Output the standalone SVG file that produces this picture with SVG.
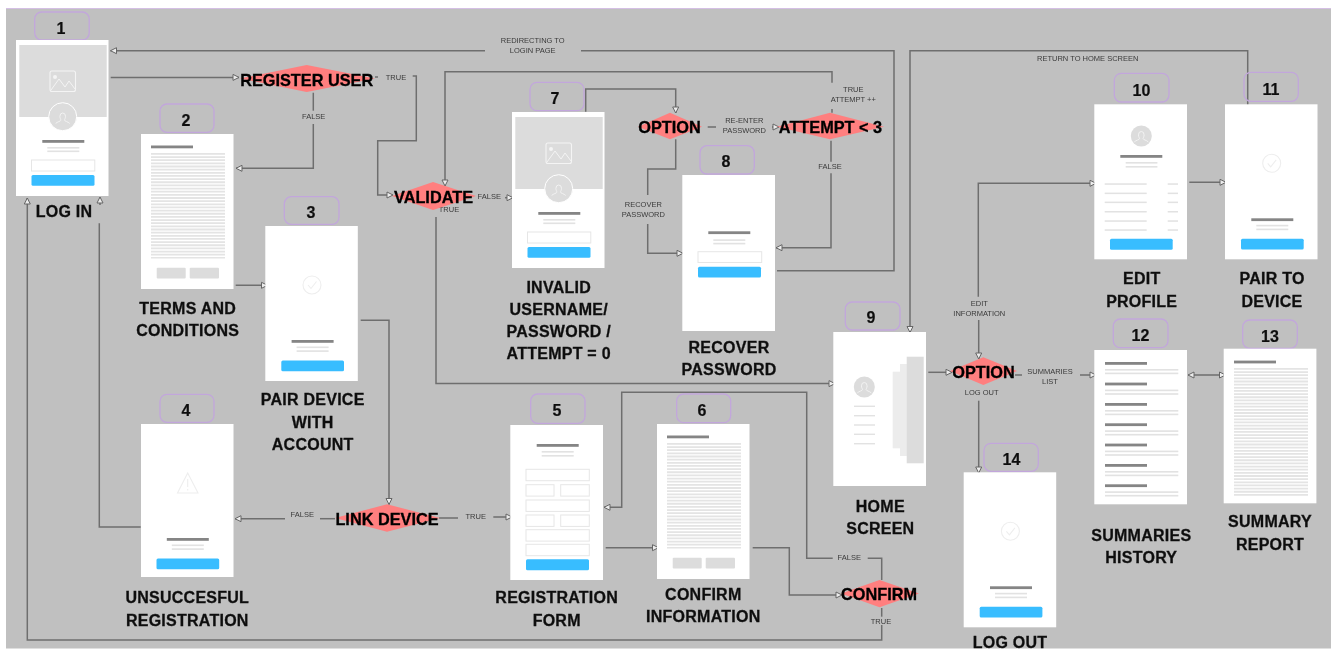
<svg xmlns="http://www.w3.org/2000/svg" width="1331" height="649" viewBox="0 0 1331 649">
<style>
text{font-family:"Liberation Sans",Arial,sans-serif}
.screen{fill:#fff}
.bar{fill:#858585}
.sub{fill:#e2e2e2}
.btn{fill:#38bdff}
.field{fill:#fff;stroke:#e6e6e6;stroke-width:1}
.ph{fill:#dcdcdc}
.ph2{fill:#ececec}
.ico{fill:none;stroke:#eee;stroke-width:1.1}
.hatch{stroke:#e4e4e4;stroke-dasharray:1.8 1.35;fill:none}
.rule{fill:#e2e2e2}
.badge{fill:none;stroke:#c2a6dc;stroke-width:1.3}
.num{font-size:16px;font-weight:700;fill:#111;stroke:#111;stroke-width:.2;text-anchor:middle}
.lbl{font-size:16px;font-weight:700;fill:#111;stroke:#111;stroke-width:.3;text-anchor:middle;letter-spacing:.25px}
.dia{fill:#ff7f7f}
.dt{font-size:16.3px;font-weight:700;fill:#000;stroke:#000;stroke-width:.3;text-anchor:middle}
.edge{fill:none;stroke:#6e6e6e;stroke-width:1.5}
.arr{marker-end:url(#ah)}
.el{font-size:7.5px;fill:#3a3a3a;text-anchor:middle}
</style>
<defs>
<filter id="soft" filterUnits="userSpaceOnUse" x="0" y="0" width="1331" height="649"><feGaussianBlur stdDeviation="0.55"/></filter>
<marker id="ah" markerUnits="userSpaceOnUse" markerWidth="9" markerHeight="9" refX="7.5" refY="4.5" orient="auto-start-reverse"><path d="M1.5 1.5L7.5 4.5L1.5 7.5Z" fill="#ececec" stroke="#666" stroke-width="1"/></marker>
<g id="foot">
<rect class="bar" x="26.3" y="114" width="42" height="2.8"/>
<rect class="sub" x="31.3" y="120.5" width="32" height="1.6"/>
<rect class="sub" x="31.3" y="124.3" width="32" height="1.6"/>
<rect class="btn" x="16" y="134.4" width="62.7" height="10.8" rx="1.5"/>
</g>
<g id="avatar">
<path d="M0-5a2.8 3.4 0 0 1 2.8 3.4c0 2-1 2.8-1 3.8c0 1 3.6 1.6 5.2 3.2M0-5a2.8 3.4 0 0 0-2.8 3.4c0 2 1 2.8 1 3.8c0 1-3.6 1.6-5.2 3.2" fill="none" stroke="#f3f3f3" stroke-width="1"/>
</g>
<g id="check"><circle class="ico" r="9"/><path class="ico" d="M-4 0L-1 3.5L4.5-3.5"/></g>
<g id="scr-login">
<rect class="screen" width="92.5" height="156"/>
<rect class="ph" x="3.3" y="5" width="87.4" height="72"/>
<rect x="34" y="31" width="25.5" height="20.5" rx="2" fill="none" stroke="#f4f4f4" stroke-width="1.1"/>
<circle cx="39" cy="37" r="2" fill="#f4f4f4"/>
<path d="M35 50L43 39L49 47L53 41L59 49" fill="none" stroke="#f4f4f4" stroke-width="1"/>
<circle class="ph" cx="46.7" cy="76.7" r="14" stroke="#fff" stroke-width="1"/>
<use href="#avatar" x="46.7" y="78"/>
<rect class="bar" x="26.3" y="100" width="42" height="2.8"/>
<rect class="sub" x="31.3" y="107" width="32" height="1.6"/>
<rect class="sub" x="31.3" y="110.5" width="32" height="1.6"/>
<rect class="field" x="15.5" y="120" width="63.3" height="11"/>
<rect class="btn" x="15.5" y="135" width="63" height="10.8" rx="1.5"/>
</g>
<g id="scr-doc">
<rect class="screen" width="92.5" height="155"/>
<rect class="bar" x="10" y="11.5" width="42" height="2.8"/>
<line class="hatch" x1="47" x2="47" y1="19" y2="124.5" stroke-width="74"/>
<rect class="ph" x="15.7" y="133.7" width="29" height="10.7" rx="1"/>
<rect class="ph" x="48.7" y="133.7" width="29.3" height="10.7" rx="1"/>
</g>
<g id="scr-ok">
<rect class="screen" width="92.5" height="155"/>
<use href="#check" x="46.7" y="59"/>
<use href="#foot"/>
</g>
</defs>
<rect width="1331" height="649" fill="#fff"/>
<g filter="url(#soft)">
<rect x="6" y="8.5" width="1325" height="640" fill="#c0c0c0"/>
<path d="M6 8.500H1331" stroke="#d4bfe4" stroke-width="1" fill="none"/>

<g id="connectors">
<path class="edge" d="M777 270.700H894V50.700H581"/>
<path class="edge arr" d="M485 50.700H110.500"/>
<path class="edge arr" d="M110.700 77.400H239"/>
<path class="edge" d="M313.300 92.700V110.700"/>
<path class="edge arr" d="M313.300 124V168.300H236"/>
<path class="edge" d="M375 77H378"/>
<path class="edge arr" d="M412.700 76H416.300V140.700H377.700V195H393"/>
<path class="edge arr" d="M832 82.700V71.700H445V186"/>
<path class="edge" d="M832 109V112.700"/>
<path class="edge arr" d="M505 197.700H513"/>
<path class="edge arr" d="M436 217V383.600H835"/>
<path class="edge arr" d="M585.700 111.700V89H675.700V113"/>
<path class="edge" d="M707.700 127H716"/>
<path class="edge arr" d="M772 127H779"/>
<path class="edge" d="M675.700 139.300V169H647.700V195"/>
<path class="edge arr" d="M647.700 224V253.300H683"/>
<path class="edge" d="M831 140.700V161.700"/>
<path class="edge arr" d="M831 173.300V247.700H776"/>
<path class="edge arr" d="M1247.700 105V50.700H910V332.500"/>
<path class="edge arr" d="M928.300 372.300H952"/>
<path class="edge arr" d="M978.700 320V359"/>
<path class="edge arr" d="M978.300 296.700V183.300H1096"/>
<path class="edge arr" d="M978.700 400.700V473"/>
<path class="edge" d="M1015 375H1022"/>
<path class="edge arr" d="M1080 375H1096"/>
<path class="edge arr" d="M1189.300 182.300H1226"/>
<path class="edge" style="marker-start:url(#ah);marker-end:url(#ah)" d="M1188 375H1225.500"/>
<path class="edge arr" d="M235.700 285.300H267.500"/>
<path class="edge arr" d="M360.700 320.300H389V504.500"/>
<path class="edge" d="M335 518.700H320"/>
<path class="edge arr" d="M285 518.700H235"/>
<path class="edge" d="M439 518H458"/>
<path class="edge arr" d="M493.300 517H512"/>
<path class="edge" d="M140.700 527H99.300V223.300"/>
<path class="edge arr" d="M100 205V197"/>
<path class="edge" d="M881.700 608V616.700"/>
<path class="edge arr" d="M881.700 625V640H27.300V198"/>
<path class="edge" d="M881.700 580V558.300H867.700"/>
<path class="edge arr" d="M832.700 558.300H806.700V392.300H621.700V507.300H604"/>
<path class="edge arr" d="M605.700 547.700H658.500"/>
<path class="edge arr" d="M752.700 547.700H789.300V595H842"/>
<text class="el"><tspan x="532.700" y="42.700">REDIRECTING TO</tspan><tspan x="532.700" y="52.700">LOGIN PAGE</tspan></text>
<text class="el" x="396" y="80">TRUE</text>
<text class="el" x="313.700" y="119">FALSE</text>
<text class="el" x="489.300" y="199.300">FALSE</text>
<text class="el" x="449" y="211.700">TRUE</text>
<text class="el"><tspan x="853.300" y="92.300">TRUE</tspan><tspan x="853.300" y="102">ATTEMPT ++</tspan></text>
<text class="el"><tspan x="744.300" y="122.700">RE-ENTER</tspan><tspan x="744.300" y="132.700">PASSWORD</tspan></text>
<text class="el" x="830" y="168.700">FALSE</text>
<text class="el"><tspan x="643.300" y="206.700">RECOVER</tspan><tspan x="643.300" y="216.700">PASSWORD</tspan></text>
<text class="el" x="1087.700" y="60.700">RETURN TO HOME SCREEN</text>
<text class="el"><tspan x="979.300" y="306">EDIT</tspan><tspan x="979.300" y="316">INFORMATION</tspan></text>
<text class="el" x="981.700" y="395">LOG OUT</text>
<text class="el"><tspan x="1050" y="374">SUMMARIES</tspan><tspan x="1050" y="384">LIST</tspan></text>
<text class="el" x="302.300" y="517.300">FALSE</text>
<text class="el" x="475.700" y="518.700">TRUE</text>
<text class="el" x="849.300" y="560">FALSE</text>
<text class="el" x="881" y="624.300">TRUE</text>
</g>

<g id="node-1"><rect class="badge" x="34.7" y="12" width="54.5" height="28" rx="7"/><text class="num" x="61" y="33.5">1</text><use href="#scr-login" x="16" y="40"/><text class="lbl" x="64" y="217">LOG IN</text></g>
<g id="node-2"><rect class="badge" x="160" y="104" width="54" height="28.3" rx="7"/><text class="num" x="186" y="125.5">2</text><use href="#scr-doc" x="141" y="134"/><text class="lbl"><tspan x="187.7" y="314">TERMS AND</tspan><tspan x="187.7" y="336">CONDITIONS</tspan></text></g>
<g id="node-3"><rect class="badge" x="284.3" y="196.7" width="54.7" height="27.6" rx="7"/><text class="num" x="311" y="217.5">3</text><use href="#scr-ok" x="265.3" y="226"/><text class="lbl"><tspan x="312.7" y="405">PAIR DEVICE</tspan><tspan x="312.7" y="427.7">WITH</tspan><tspan x="312.7" y="450">ACCOUNT</tspan></text></g>
<g id="node-4"><rect class="badge" x="160" y="394.3" width="54" height="28" rx="7"/><text class="num" x="186" y="415.5">4</text><rect class="screen" x="141" y="424" width="92.5" height="153"/><path class="ico" d="M187.7 473L198 493H177.5Z"/><path d="M187.7 479V487M187.7 489V490.5" stroke="#eee" stroke-width="1.1" fill="none"/><use href="#foot" x="140.500" y="424"/><text class="lbl"><tspan x="187.3" y="603.3">UNSUCCESFUL</tspan><tspan x="187.3" y="626">REGISTRATION</tspan></text></g>
<g id="node-5"><rect class="badge" x="530.7" y="394" width="54.3" height="29.3" rx="7"/><text class="num" x="557" y="416">5</text><rect class="screen" x="510.3" y="425" width="92.7" height="155"/><rect class="bar" x="536.7" y="444" width="42" height="2.8"/><rect class="sub" x="541.7" y="451" width="32" height="1.6"/><rect class="sub" x="541.7" y="455" width="32" height="1.6"/><rect class="field" x="526" y="469.3" width="63.3" height="11.4"/><rect class="field" x="526" y="484.7" width="28" height="11.4"/><rect class="field" x="560.7" y="484.7" width="28.6" height="11.4"/><rect class="field" x="526" y="500" width="63.3" height="11.4"/><rect class="field" x="526" y="515" width="28" height="11.4"/><rect class="field" x="560.7" y="515" width="28.6" height="11.4"/><rect class="field" x="526" y="529.7" width="63.3" height="11.4"/><rect class="field" x="526" y="544.3" width="63.3" height="11.4"/><rect class="btn" x="526" y="559.3" width="63" height="11" rx="1.5"/><text class="lbl"><tspan x="556.7" y="602.7">REGISTRATION</tspan><tspan x="556.7" y="625.7">FORM</tspan></text></g>
<g id="node-6"><rect class="badge" x="676.7" y="394" width="54" height="28.7" rx="7"/><text class="num" x="702" y="416">6</text><use href="#scr-doc" x="657" y="424"/><text class="lbl"><tspan x="703.3" y="600">CONFIRM</tspan><tspan x="703.3" y="622">INFORMATION</tspan></text></g>
<g id="node-7"><rect class="badge" x="530" y="82.3" width="54" height="28.4" rx="7"/><text class="num" x="555" y="104">7</text><use href="#scr-login" x="512" y="112"/><text class="lbl"><tspan x="558.7" y="292.7">INVALID</tspan><tspan x="558.7" y="314.5">USERNAME/</tspan><tspan x="558.7" y="337.3">PASSWORD /</tspan><tspan x="558.7" y="359.3">ATTEMPT = 0</tspan></text></g>
<g id="node-8"><rect class="badge" x="700" y="145.7" width="54.3" height="28.3" rx="7"/><text class="num" x="726" y="167">8</text><rect class="screen" x="682.3" y="175" width="92.7" height="156"/><rect class="bar" x="708.3" y="231.3" width="42" height="2.8"/><rect class="sub" x="713.3" y="239.3" width="32" height="1.6"/><rect class="sub" x="713.3" y="242.8" width="32" height="1.6"/><rect class="field" x="698" y="251.7" width="63.7" height="10.8"/><rect class="btn" x="698" y="266.7" width="63" height="10.7" rx="1.5"/><text class="lbl"><tspan x="729" y="352.7">RECOVER</tspan><tspan x="729" y="374.7">PASSWORD</tspan></text></g>
<g id="node-9"><rect class="badge" x="845.3" y="302" width="54.7" height="28" rx="7"/><text class="num" x="871" y="323">9</text><rect class="screen" x="833.3" y="332" width="92.7" height="154"/><rect class="ph2" x="892.7" y="371.7" width="14" height="76.6"/><rect class="ph2" x="900" y="364" width="7" height="92"/><rect class="ph" x="906.7" y="356.7" width="17" height="106.6"/><circle class="ph" cx="864.3" cy="387" r="10.5"/><use href="#avatar" x="864.3" y="387.5"/><g class="rule"><rect x="854" y="405.6" width="21" height="1.4"/><rect x="854" y="415" width="21" height="1.4"/><rect x="854" y="424.3" width="21" height="1.4"/><rect x="854" y="433.6" width="21" height="1.4"/><rect x="854" y="443" width="21" height="1.4"/></g><text class="lbl"><tspan x="880.3" y="512">HOME</tspan><tspan x="880.3" y="534">SCREEN</tspan></text></g>
<g id="node-10"><rect class="badge" x="1114.3" y="73.3" width="54.7" height="28.7" rx="7"/><text class="num" x="1141.5" y="95.5">10</text><rect class="screen" x="1094.3" y="104.3" width="92.7" height="155"/><circle class="ph" cx="1141.3" cy="136" r="10.5"/><use href="#avatar" x="1141.3" y="136.5"/><rect class="bar" x="1120.3" y="155" width="42" height="2.8"/><rect class="sub" x="1125.7" y="162" width="31.7" height="1.6"/><rect class="sub" x="1125.7" y="166" width="31.7" height="1.6"/><g class="rule"><rect x="1104.7" y="183.3" width="42" height="1.5"/><rect x="1104.7" y="192.6" width="42" height="1.5"/><rect x="1104.7" y="201.6" width="42" height="1.5"/><rect x="1104.7" y="211" width="42" height="1.5"/><rect x="1104.7" y="220.3" width="42" height="1.5"/><rect x="1104.7" y="229.3" width="42" height="1.5"/><rect x="1167.7" y="183.3" width="10.3" height="1.5"/><rect x="1167.7" y="192.6" width="10.3" height="1.5"/><rect x="1167.7" y="201.6" width="10.3" height="1.5"/><rect x="1167.7" y="211" width="10.3" height="1.5"/><rect x="1167.7" y="220.3" width="10.3" height="1.5"/><rect x="1167.7" y="229.3" width="10.3" height="1.5"/></g><rect class="btn" x="1110" y="238.7" width="62.7" height="11" rx="1.5"/><text class="lbl"><tspan x="1141.7" y="284">EDIT</tspan><tspan x="1141.7" y="306.7">PROFILE</tspan></text></g>
<g id="node-11"><rect class="badge" x="1244" y="72.3" width="54.3" height="29" rx="7"/><text class="num" x="1271" y="94.5">11</text><use href="#scr-ok" x="1225" y="104.3"/><text class="lbl"><tspan x="1272" y="284">PAIR TO</tspan><tspan x="1272" y="306.7">DEVICE</tspan></text></g>
<g id="node-12"><rect class="badge" x="1113.3" y="319" width="54.7" height="28.7" rx="7"/><text class="num" x="1140.5" y="340.5">12</text><rect class="screen" x="1094.3" y="350" width="92.7" height="154.3"/><g id="summ-rows"><rect class="bar" x="1105" y="362" width="42" height="2.8"/><rect class="sub" x="1105" y="369" width="73.3" height="1.6"/><rect class="sub" x="1105" y="372.6" width="73.3" height="1.6"/><rect class="bar" x="1105" y="382.6" width="42" height="2.8"/><rect class="sub" x="1105" y="389.6" width="73.3" height="1.6"/><rect class="sub" x="1105" y="393.2" width="73.3" height="1.6"/><rect class="bar" x="1105" y="403" width="42" height="2.8"/><rect class="sub" x="1105" y="410" width="73.3" height="1.6"/><rect class="sub" x="1105" y="413.6" width="73.3" height="1.6"/><rect class="bar" x="1105" y="423.3" width="42" height="2.8"/><rect class="sub" x="1105" y="430.3" width="73.3" height="1.6"/><rect class="sub" x="1105" y="433.9" width="73.3" height="1.6"/><rect class="bar" x="1105" y="443.6" width="42" height="2.8"/><rect class="sub" x="1105" y="450.6" width="73.3" height="1.6"/><rect class="sub" x="1105" y="454.2" width="73.3" height="1.6"/><rect class="bar" x="1105" y="464" width="42" height="2.8"/><rect class="sub" x="1105" y="471" width="73.3" height="1.6"/><rect class="sub" x="1105" y="474.6" width="73.3" height="1.6"/><rect class="bar" x="1105" y="484.3" width="42" height="2.8"/><rect class="sub" x="1105" y="491.3" width="73.3" height="1.6"/><rect class="sub" x="1105" y="494.9" width="73.3" height="1.6"/></g><text class="lbl"><tspan x="1141.3" y="541">SUMMARIES</tspan><tspan x="1141.3" y="563">HISTORY</tspan></text></g>
<g id="node-13"><rect class="badge" x="1242.7" y="320" width="54.6" height="28.3" rx="7"/><text class="num" x="1270" y="342">13</text><rect class="screen" x="1223.7" y="348.7" width="92.7" height="154.6"/><rect class="bar" x="1234" y="360.6" width="42" height="2.8"/><line class="hatch" x1="1271" x2="1271" y1="368" y2="496" stroke-width="74"/><text class="lbl"><tspan x="1270" y="526.7">SUMMARY</tspan><tspan x="1270" y="550">REPORT</tspan></text></g>
<g id="node-14"><rect class="badge" x="984" y="443.3" width="54.3" height="28" rx="7"/><text class="num" x="1011.5" y="465">14</text><use href="#scr-ok" x="963.7" y="472.3"/><text class="lbl" x="1010" y="647.7">LOG OUT</text></g>

<g id="decision-register"><path class="dia" d="M240 78.6L306.7 65L375 78.6L306.7 92Z"/><text class="dt" x="306.7" y="85.5">REGISTER USER</text></g>
<g id="decision-validate"><path class="dia" d="M392 196L433 182L476 196L433 210Z"/><text class="dt" x="433.5" y="203">VALIDATE</text></g>
<g id="decision-option-1"><path class="dia" d="M638 126.7L670 112.7L702 126.7L670 139.3Z"/><text class="dt" x="669.5" y="133">OPTION</text></g>
<g id="decision-attempt"><path class="dia" d="M777 126.7L830 112.7L884 126.7L830 139.3Z"/><text class="dt" x="830.5" y="133">ATTEMPT &lt; 3</text></g>
<g id="decision-link"><path class="dia" d="M335 518L387 504.3L440 518L387 531.7Z"/><text class="dt" x="387" y="524.5">LINK DEVICE</text></g>
<g id="decision-confirm"><path class="dia" d="M841 593.6L879.5 580L919 593.6L879.5 607.3Z"/><text class="dt" x="879" y="600">CONFIRM</text></g>
<g id="decision-option-2"><path class="dia" d="M950 371L983.3 357.3L1017 371L983.3 385Z"/><text class="dt" x="983.5" y="378">OPTION</text></g>
</g>
</svg>
